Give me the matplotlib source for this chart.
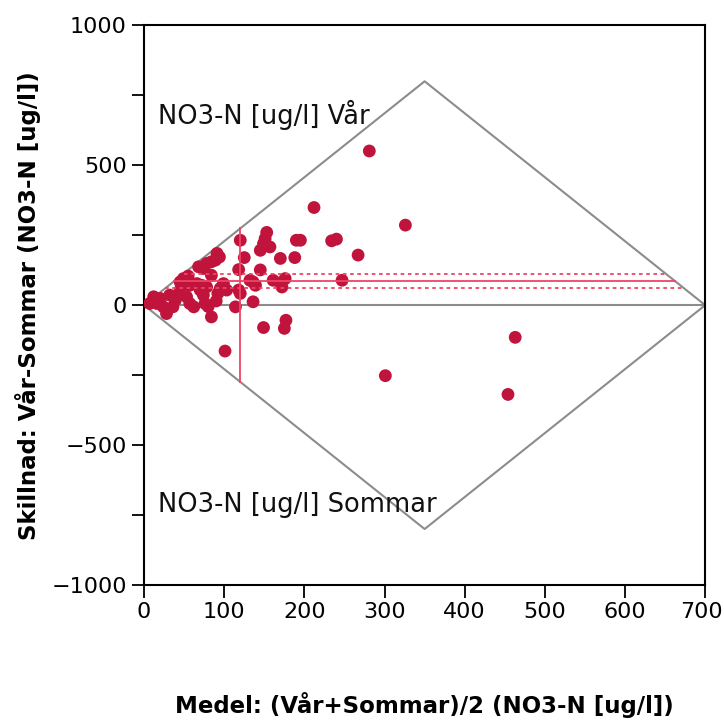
import matplotlib
matplotlib.use("Agg")
import matplotlib.pyplot as plt
import matplotlib.transforms as mtransforms
import numpy as np

# Mean of spring and summer NO3-N (ug/l) and their difference (spring - summer)
medel = [281, 212, 326, 153, 151, 149, 157, 145, 120, 190, 195, 234, 240, 267,
         188, 170, 125, 145, 118, 94, 91, 89, 84, 68, 74, 78, 84, 55, 49, 45,
         72, 78, 70, 99, 95, 136, 139, 132, 120, 118, 161, 170, 176, 172, 247,
         136, 114, 84, 149, 177, 175, 101, 463, 301, 454, 53, 57, 62, 76, 39,
         45, 28, 24, 20, 12, 7, 16, 103, 57, 66, 32, 36, 74, 92, 80, 90]
skillnad = [551, 349, 286, 260, 238, 220, 208, 196, 232, 232, 232, 230, 236, 179,
            170, 167, 170, 126, 127, 172, 185, 161, 155, 137, 131, 149, 107, 104, 95, 83,
            71, 65, 54, 77, 60, 83, 71, 89, 42, 54, 89, 80, 95, 65, 89,
            12, -6, -42, -80, -54, -83, -164, -115, -252, -319, 30, 6, -6, 6, 18,
            54, -30, -6, 24, 30, 6, 6, 54, 71, 77, 36, -6, 36, 42, -5, 15]

mean_diff = 86
ci_low, ci_high = 60, 113
mean_x = 120
x_max = 700
half_height = 800

fig = plt.figure(figsize=(7.24, 7.24), dpi=100)
ax = fig.add_axes([0.199, 0.192, 0.775, 0.773])

gray = "#8c8c8c"
red_line = "#ee4466"

# diamond outline and zero line
ax.plot([0, x_max / 2, x_max, x_max / 2, 0], [0, half_height, 0, -half_height, 0],
        color=gray, lw=1.5, zorder=1)
ax.plot([0, x_max], [0, 0], color=gray, lw=1.5, zorder=1)

ax.scatter(medel, skillnad, s=85, color="#c0143c", edgecolors="none", zorder=3)

# mean difference with confidence lines, clipped to the diamond
slope = half_height / (x_max / 2)
for yv, ls in [(mean_diff, "-"), (ci_high, (0, (2, 2))), (ci_low, (0, (2, 2)))]:
    x0 = yv / slope
    ax.plot([x0, x_max - x0], [yv, yv], color=red_line, lw=1.3, ls=ls, zorder=4)
ax.plot([mean_x, mean_x], [-mean_x * slope, mean_x * slope], color=red_line, lw=1.3, zorder=4)

ax.text(17, 679, "NO3-N [ug/l] Vår", fontsize=18.5, va="center", ha="left", color="#111111")
ax.text(17, -714, "NO3-N [ug/l] Sommar", fontsize=18.5, va="center", ha="left", color="#111111")

ax.set_xlim(0, 700)
ax.set_ylim(-1000, 1000)
ax.set_xticks(np.arange(0, 701, 100))
ax.set_yticks(np.arange(-1000, 1001, 500))
ax.set_yticks(np.arange(-750, 751, 500), minor=True)
ax.tick_params(axis="both", which="both", direction="out", length=9, width=1.3,
               labelsize=16, colors="black")
for sp in ax.spines.values():
    sp.set_linewidth(1.5)

# keep the last x label inside the figure
last = ax.get_xticklabels()[-1]
last.set_transform(last.get_transform() + mtransforms.ScaledTranslation(-4 / 100, 0, fig.dpi_scale_trans))

ax.set_xlabel("Medel: (Vår+Sommar)/2 (NO3-N [ug/l])", fontsize=16.5, fontweight="bold", labelpad=50)
ax.set_ylabel("Skillnad: Vår-Sommar (NO3-N [ug/l])", fontsize=16.5, fontweight="bold", labelpad=7)

fig.savefig("out.png", dpi=100)
